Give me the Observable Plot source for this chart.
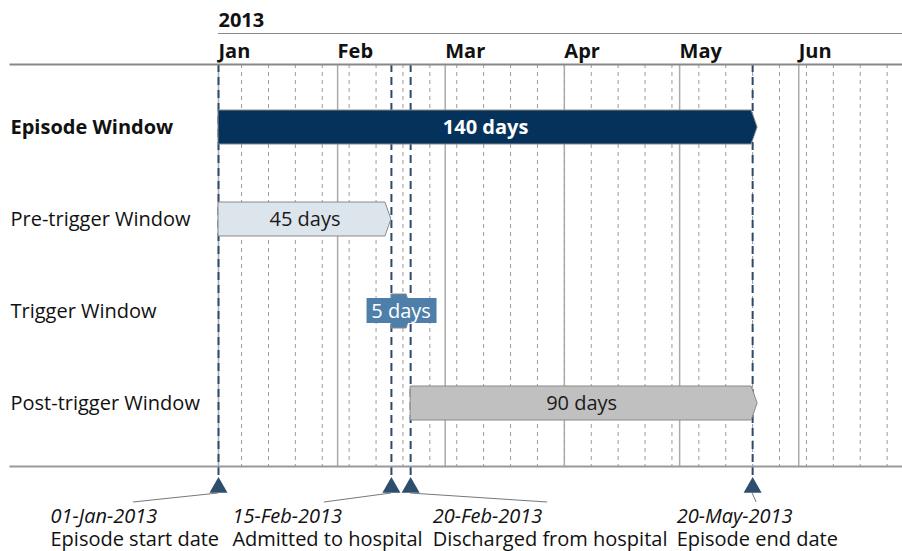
<!DOCTYPE html>
<html><head><meta charset="utf-8">
<script src="https://cdn.jsdelivr.net/npm/d3@7"></script>
<script src="https://cdn.jsdelivr.net/npm/@observablehq/plot@0.6"></script>
<style>
body{margin:0;background:#fff;font-family:"Open Sans",sans-serif}
svg{display:block}
</style>
</head><body><div id="chart"></div>
<script>
// ---- data ----
const rows = ["Episode Window", "Pre-trigger Window", "Trigger Window", "Post-trigger Window"];
const windowStart = ["2013-01-01", "2013-01-01", "2013-02-15", "2013-02-20"];
const windowEnd = ["2013-05-20", "2013-02-15", "2013-02-20", "2013-05-20"];
const windowDays = [140, 45, 5, 90];
const eventDates = ["2013-01-01", "2013-02-15", "2013-02-20", "2013-05-20"];
const eventDateLabels = ["01-Jan-2013", "15-Feb-2013", "20-Feb-2013", "20-May-2013"];
const eventNames = ["Episode start date", "Admitted to hospital", "Discharged from hospital", "Episode end date"];
const monthLabels = ["Jan", "Feb", "Mar", "Apr", "May", "Jun"];
const yearLabel = "2013";
const timeDomain = ["2013-01-01", "2013-06-28"];

// ---- styles (kept apart from data) ----
const barFill = ["#05325a", "#dce4ec", "#4e7fab", "#c0c0c0"];
const labelFill = ["#ffffff", "#1a1a1a", "#ffffff", "#1a1a1a"];
const tipShape = [[1, 5], [6, 0], [4, 1], [1, 5]];
const labelBoxW = [0, 0, 70, 0];
const annotDx = [-168, -159, 22, -76];
const leaderDx = [-85, -67, 137, 4];
const FONT = "Open Sans";
const FS = 20;

const windows = rows.map((row, i) => ({row, start: new Date(windowStart[i]), end: new Date(windowEnd[i]), days: windowDays[i], i}));
const events = eventDates.map((d, i) => ({date: new Date(d), label: eventDateLabels[i], name: eventNames[i], i}));
const t0 = new Date(timeDomain[0]), t1 = new Date(timeDomain[1]);
const monthStarts = d3.utcMonth.range(t0, t1).map((d, i) => ({date: d, label: monthLabels[i]}));
const weeks = d3.utcMonday.range(t0, t1);

const barsMark = (index, scales) => {
  const g = d3.create("svg:g");
  windows.forEach((w, i) => {
    const x1 = scales.x(w.start), x2 = scales.x(w.end), y = scales.y(w.row), h = 34;
    const [back, fwd] = tipShape[i];
    g.append("path")
      .attr("d", `M${x1},${y - h / 2}H${x2 - back}L${x2 + fwd},${y}L${x2 - back},${y + h / 2}H${x1}Z`)
      .attr("fill", barFill[i]).attr("stroke", "#8a8a8a").attr("stroke-width", 1);
    if (labelBoxW[i]) {
      const xm = (x1 + x2) / 2;
      g.append("rect").attr("x", xm - labelBoxW[i] / 2 + 1).attr("y", y - 13).attr("width", labelBoxW[i]).attr("height", 25)
        .attr("fill", barFill[i]);
    }
  });
  return g.node();
};

const leaderMark = (index, scales, values, dims) => {
  const g = d3.create("svg:g");
  const yb = dims.height - dims.marginBottom;
  events.forEach((e, i) => {
    const x = scales.x(e.date);
    g.append("line").attr("x1", x).attr("y1", yb + 27).attr("x2", x + leaderDx[i]).attr("y2", yb + 36)
      .attr("stroke", "#777").attr("stroke-width", 1);
  });
  return g.node();
};

const mid = w => new Date((+w.start + +w.end) / 2);

const chart = Plot.plot({
  width: 902,
  height: 551,
  marginLeft: 218,
  marginRight: 0,
  marginTop: 64,
  marginBottom: 85,
  style: {fontFamily: FONT, background: "#fff", overflow: "visible"},
  x: {type: "utc", domain: [t0, t1], axis: null},
  y: {type: "point", domain: rows, range: [127, 403], padding: 0, axis: null},
  marks: [
    Plot.ruleX(weeks, {stroke: "#9a9a9a", strokeWidth: 1, strokeDasharray: "4,4"}),
    Plot.ruleX(monthStarts, {x: "date", stroke: "#ababab", strokeWidth: 1.5}),
    Plot.ruleX(events, {x: "date", stroke: "#2c4b6c", strokeWidth: 2, strokeDasharray: "8,5", insetBottom: -12}),
    barsMark,
    Plot.text(windows.filter(w => w.i === 0), {x: mid, y: "row", text: d => `${d.days} days`, fill: labelFill[0], fontSize: FS, fontWeight: "bold"}),
    Plot.text(windows.filter(w => w.i !== 0), {x: mid, y: "row", text: d => `${d.days} days`, fill: d => labelFill[d.i], fontSize: FS}),
    Plot.text(rows.slice(0, 1), {y: d => d, text: d => d, frameAnchor: "left", dx: -208, textAnchor: "start", fontSize: FS, fontWeight: "bold", fill: "#111"}),
    Plot.text(rows.slice(1), {y: d => d, text: d => d, frameAnchor: "left", dx: -208, textAnchor: "start", fontSize: FS, fill: "#111"}),
    Plot.frame({anchor: "top", insetLeft: -208, stroke: "#888", strokeWidth: 2}),
    Plot.frame({anchor: "bottom", insetLeft: -208, stroke: "#999", strokeWidth: 2}),
    Plot.frame({anchor: "top", dy: -31, stroke: "#888", strokeWidth: 1.2}),
    Plot.text(monthStarts, {x: "date", text: "label", frameAnchor: "top", dy: -7, dx: 0, lineAnchor: "bottom", textAnchor: "start", fontSize: FS, fontWeight: "bold", fill: "#111"}),
    Plot.text([yearLabel], {text: d => d, frameAnchor: "top-left", dy: -38, lineAnchor: "bottom", textAnchor: "start", fontSize: FS, fontWeight: "bold", fill: "#111"}),
    Plot.dot(events, {x: "date", frameAnchor: "bottom", dy: 21, symbol: "triangle", r: 6.7, fill: "#2e4e6e", stroke: "none"}),
    leaderMark,
    ...events.map((e, i) => Plot.text([e], {x: "date", text: "label", frameAnchor: "bottom", dy: 56, dx: annotDx[i], lineAnchor: "bottom", textAnchor: "start", fontSize: FS, fontStyle: "italic", fill: "#111"})),
    ...events.map((e, i) => Plot.text([e], {x: "date", text: "name", frameAnchor: "bottom", dy: 79, dx: annotDx[i], lineAnchor: "bottom", textAnchor: "start", fontSize: FS, fill: "#111"}))
  ]
});
document.getElementById("chart").appendChild(chart);
</script>
</body></html>
